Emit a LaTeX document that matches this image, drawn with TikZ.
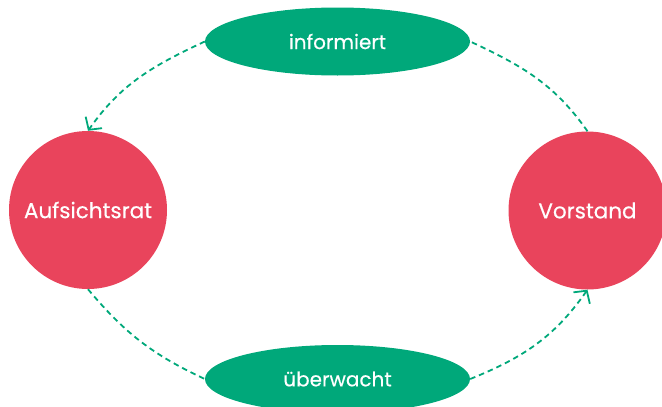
\documentclass[tikz,border=0pt]{standalone}
\usepackage{fontspec}
\setmainfont{Poppins}[FakeBold=0.4]
\usetikzlibrary{shapes.geometric,arrows.meta}
\definecolor{gruen}{RGB}{0,168,122}
\definecolor{rot}{RGB}{233,68,92}
\tikzset{
  organ/.style={circle,fill=rot,text=white,minimum size=158pt,inner sep=0pt,font=\fontsize{21.5}{25}\selectfont},
  taetig/.style={ellipse,fill=gruen,text=white,minimum width=265pt,minimum height=68pt,inner sep=0pt,font=\fontsize{20}{24}\selectfont},
  verbindung/.style={draw=gruen,line width=1.8pt,dash pattern=on 5.5pt off 4pt},
  pfeil/.style={-{Straight Barb[length=9pt,width=20pt,line width=1.8pt]}}
}
\begin{document}
\begin{tikzpicture}[x=1pt,y=-1pt]
\useasboundingbox (0,0) rectangle (662,407);
\clip (0,0) rectangle (662,407);
\node[organ] (auf) at (88,210) {Aufsichtsrat};
\node[organ] (vor) at (587.5,210.5) {Vorstand};
\node[taetig] (inf) at (337.5,41.5) {informiert};
\node[taetig] (ueb) at (337.5,379) {überwacht};
\draw[verbindung] (vor.north) to[out=125,in=-25] (inf.east);
\draw[verbindung,pfeil] (inf.west) to[out=205,in=55] (auf.north);
\draw[verbindung] (auf.south) to[out=-50,in=155] (ueb.west);
\draw[verbindung,pfeil] (ueb.east) to[out=22,in=235] (vor.south);
\end{tikzpicture}
\end{document}
